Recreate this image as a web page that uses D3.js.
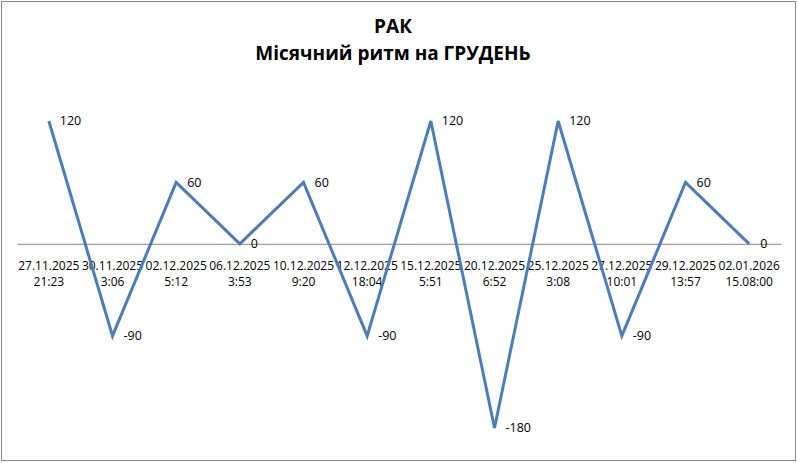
<!DOCTYPE html>
<html>
<head>
<meta charset="utf-8">
<script src="https://cdn.jsdelivr.net/npm/d3@7"></script>
<style>
  body { margin: 0; background: #fff; }
  svg { display: block; }
</style>
</head>
<body>
<div id="chart"></div>
<script>
const titleLines = ["РАК", "Місячний ритм на ГРУДЕНЬ"];
const dates = ["27.11.2025", "30.11.2025", "02.12.2025", "06.12.2025", "10.12.2025", "12.12.2025",
  "15.12.2025", "20.12.2025", "25.12.2025", "27.12.2025", "29.12.2025", "02.01.2026"];
const times = ["21:23", "3:06", "5:12", "3:53", "9:20", "18:04",
  "5:51", "6:52", "3:08", "10:01", "13:57", "15.08:00"];
const values = [120, -90, 60, 0, 60, -90, 120, -180, 120, -90, 60, 0];

const width = 798, height = 463;
const font = "'Open Sans', 'Noto Sans', sans-serif";

const svg = d3.select("#chart").append("svg")
  .attr("width", width)
  .attr("height", height);

svg.append("rect")
  .attr("x", 1.5).attr("y", 1.5)
  .attr("width", 794).attr("height", 459)
  .attr("fill", "#fff")
  .attr("stroke", "#868686")
  .attr("stroke-width", 1);

// title
svg.append("g")
  .selectAll("text")
  .data(titleLines)
  .enter().append("text")
  .attr("x", 393)
  .attr("y", (d, i) => 33 + i * 27)
  .attr("text-anchor", "middle")
  .attr("font-family", font)
  .attr("font-weight", "bold")
  .attr("font-size", 19)
  .attr("fill", "#000")
  .text(d => d);

const x = d3.scaleBand()
  .domain(d3.range(values.length))
  .range([17, 781]);

const y = d3.scaleLinear()
  .domain([-180, 120])
  .range([428, 121]);

const cx = i => x(i) + x.bandwidth() / 2;

// horizontal axis at zero
svg.append("g")
  .attr("transform", `translate(0,${y(0)})`)
  .call(d3.axisBottom(x).tickSize(0).tickFormat(""))
  .call(g => g.select(".domain").attr("stroke", "#868686").attr("stroke-width", 1));

// category labels
const lbl = svg.append("g")
  .attr("font-family", font)
  .attr("font-size", 12)
  .attr("fill", "#000")
  .attr("text-anchor", "middle");

lbl.selectAll("text.d")
  .data(dates)
  .enter().append("text")
  .attr("class", "d")
  .attr("x", (d, i) => cx(i))
  .attr("y", 270)
  .text(d => d);

lbl.selectAll("text.t")
  .data(times)
  .enter().append("text")
  .attr("class", "t")
  .attr("x", (d, i) => cx(i))
  .attr("y", 286)
  .text(d => d);

// series line
const line = d3.line()
  .x((d, i) => cx(i))
  .y(d => y(d));

svg.append("path")
  .datum(values)
  .attr("fill", "none")
  .attr("stroke", "#4A7EBB")
  .attr("stroke-width", 3)
  .attr("stroke-linejoin", "miter")
  .attr("d", line);

// data labels
svg.append("g")
  .attr("font-family", font)
  .attr("font-size", 12.5)
  .attr("fill", "#000")
  .selectAll("text")
  .data(values)
  .enter().append("text")
  .attr("x", (d, i) => cx(i) + 11)
  .attr("y", d => y(d))
  .attr("dy", "0.35em")
  .text(d => d);
</script>
</body>
</html>
